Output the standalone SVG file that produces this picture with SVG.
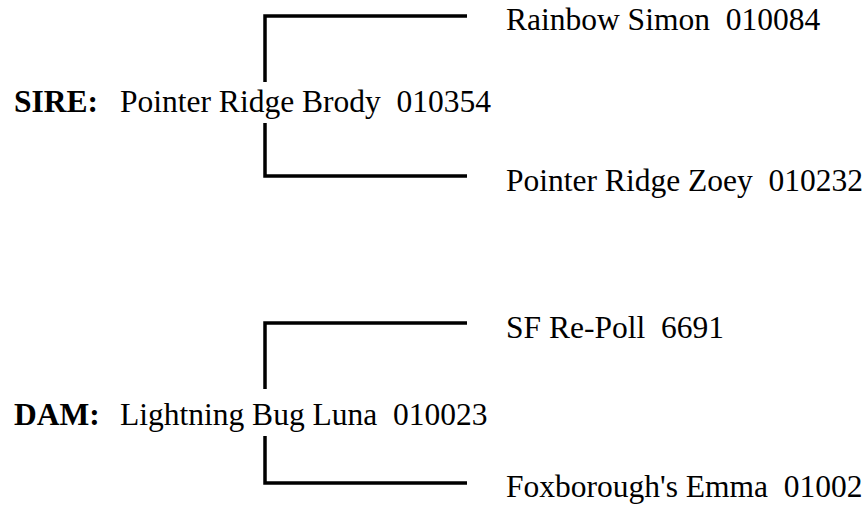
<svg xmlns="http://www.w3.org/2000/svg" width="867" height="507" viewBox="0 0 867 507">
<style>
.t{font-family:"Liberation Serif","Times New Roman",serif;font-size:31.5px;fill:#000}
.b{font-family:"Liberation Serif","Times New Roman",serif;font-size:31.5px;font-weight:bold;fill:#000}
.c{fill:none;stroke:#000;stroke-width:3.5;stroke-linejoin:miter;stroke-linecap:butt}
</style>
<rect width="867" height="507" fill="#fff"/>
<g id="connectors">
<path class="c" d="M265,82 V16 H467"/>
<path class="c" d="M265,123 V176 H467"/>
<path class="c" d="M265,389 V323 H467"/>
<path class="c" d="M265,436 V483 H467"/>
</g>
<g id="sire">
<text class="b" x="14" y="112">SIRE:</text>
<text class="t" x="120" y="112" xml:space="preserve">Pointer Ridge Brody  010354</text>
</g>
<g id="sire-sire">
<text class="t" x="506" y="30" xml:space="preserve">Rainbow Simon  010084</text>
</g>
<g id="sire-dam">
<text class="t" x="506" y="191" xml:space="preserve">Pointer Ridge Zoey  010232</text>
</g>
<g id="dam">
<text class="b" x="14" y="425">DAM:</text>
<text class="t" x="120" y="425" xml:space="preserve">Lightning Bug Luna  010023</text>
</g>
<g id="dam-sire">
<text class="t" x="506" y="338" xml:space="preserve">SF Re-Poll  6691</text>
</g>
<g id="dam-dam">
<text class="t" x="506" y="497" xml:space="preserve">Foxborough's Emma  01002</text>
</g>
</svg>
